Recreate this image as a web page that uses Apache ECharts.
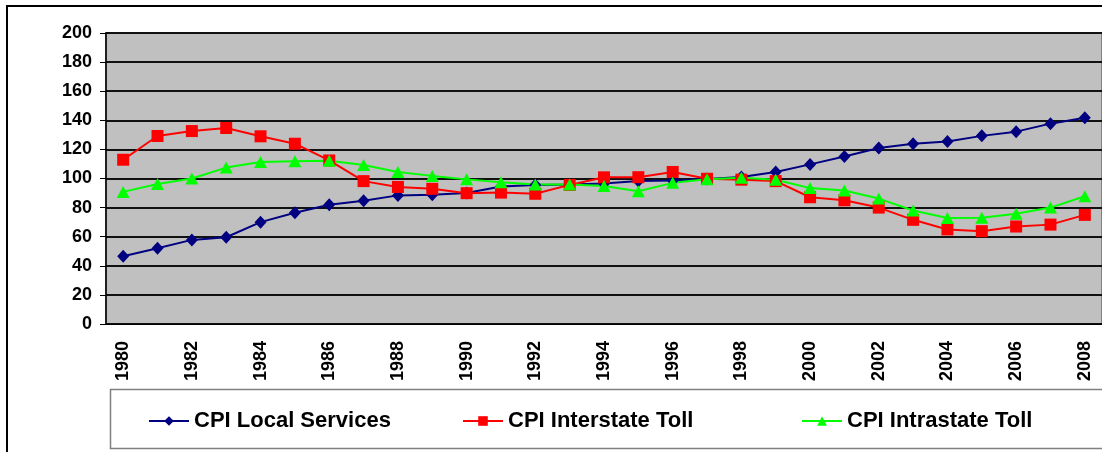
<!DOCTYPE html>
<html>
<head>
<meta charset="utf-8">
<script src="https://cdn.jsdelivr.net/npm/echarts@6/dist/echarts.min.js"></script>
<style>
html,body{margin:0;padding:0;background:#fff;}
#chart{width:1102px;height:452px;}
</style>
</head>
<body>
<div id="chart"></div>
<script>
const years = ['1980','1981','1982','1983','1984','1985','1986','1987','1988','1989','1990','1991','1992','1993','1994','1995','1996','1997','1998','1999','2000','2001','2002','2003','2004','2005','2006','2007','2008'];
const localServices = [46.5,52,57.8,59.6,70,76.4,81.9,84.7,88.4,88.8,90,94.5,95.6,95.8,96.5,98.2,98.7,99.6,101,104.4,109.7,115.1,120.9,123.9,125.4,129.3,132.2,137.7,141.8];
const interstateToll = [112.9,129.2,132.6,134.7,129,123.9,112.4,98.2,94.2,92.9,89.9,90.3,89.5,95.6,100.8,100.9,104.5,99.8,99.2,98.2,87.1,85,80,71.6,65,63.8,67,68.3,75];
const intrastateToll = [90.8,96.2,100,107.5,111.4,111.8,112.2,109.3,104.4,101.8,99.4,97.5,95.8,95.8,94.8,91.2,97,99.5,100.6,99.2,93.4,91.8,86.2,78,72.8,73,75.8,80,87.8];
const seriesNames = ['CPI Local Services','CPI Interstate Toll','CPI Intrastate Toll'];

const chart = echarts.init(document.getElementById('chart'), null, {renderer:'canvas'});
const font = 'Liberation Sans, Arial, sans-serif';
const legendLefts = [148, 462, 801];
const legendBase = {top:410, itemWidth:40, itemHeight:12, itemGap:6, padding:0,
  textStyle:{fontFamily:font, fontWeight:'bold', fontSize:22, color:'#000'}};
chart.setOption({
  animation:false,
  backgroundColor:'#ffffff',
  graphic:[
    {type:'rect', shape:{x:7,y:6,width:1200,height:500}, style:{fill:'none',stroke:'#000',lineWidth:2}, z:-10},
    {type:'rect', shape:{x:110.5,y:389.5,width:1100,height:59}, style:{fill:'#fff',stroke:'#808080',lineWidth:1.5}, z:-5}
  ],
  grid:{left:106, top:33, width:999, height:291, show:true, backgroundColor:'#C0C0C0', borderColor:'#808080', borderWidth:2},
  legend: seriesNames.map((n,i)=>Object.assign({}, legendBase, {data:[n], left:legendLefts[i]})),
  xAxis:{
    type:'category', data:years, boundaryGap:true,
    axisLine:{show:true, lineStyle:{color:'#000', width:1}},
    axisTick:{show:false},
    axisLabel:{rotate:90, interval:1, margin:17, fontFamily:font, fontWeight:'bold', fontSize:18, color:'#000'}
  },
  yAxis:{
    type:'value', min:0, max:200, interval:20,
    axisLine:{show:true, lineStyle:{color:'#000', width:1.5}},
    axisTick:{show:true, length:6, lineStyle:{color:'#000'}},
    splitLine:{show:true, lineStyle:{color:'#111', width:2}},
    axisLabel:{margin:14, fontFamily:font, fontWeight:'bold', fontSize:18, color:'#000'}
  },
  series:[
    {name:seriesNames[0], type:'line', data:localServices, symbol:'diamond', symbolSize:[12,13], color:'#000080', lineStyle:{width:2,color:'#000080'}, itemStyle:{color:'#000080'}},
    {name:seriesNames[1], type:'line', data:interstateToll, symbol:'rect', symbolSize:12, color:'#FF0000', lineStyle:{width:2,color:'#FF0000'}, itemStyle:{color:'#FF0000'}},
    {name:seriesNames[2], type:'line', data:intrastateToll, symbol:'triangle', symbolSize:[13,12], color:'#00FF00', lineStyle:{width:2,color:'#00FF00'}, itemStyle:{color:'#00FF00'}}
  ]
});
</script>
</body>
</html>
